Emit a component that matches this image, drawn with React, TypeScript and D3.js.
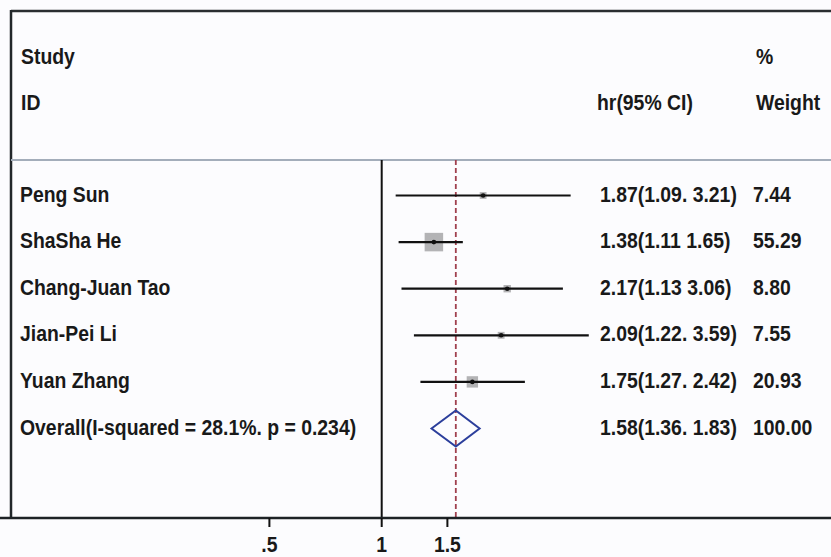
import React from 'react';
import * as d3 from 'd3';

const W = 831;
const H = 557;

const studies = ['Peng Sun', 'ShaSha He', 'Chang-Juan Tao', 'Jian-Pei Li', 'Yuan Zhang'];
const hr = [1.87, 1.38, 2.17, 2.09, 1.75];
const lower = [1.09, 1.11, 1.13, 1.22, 1.27];
const upper = [3.21, 1.65, 3.06, 3.59, 2.42];
const weights = [7.44, 55.29, 8.8, 7.55, 20.93];
const ciLabels = ['1.87(1.09. 3.21)', '1.38(1.11 1.65)', '2.17(1.13 3.06)', '2.09(1.22. 3.59)', '1.75(1.27. 2.42)'];
const weightLabels = ['7.44', '55.29', '8.80', '7.55', '20.93'];

const overallLabel = 'Overall(I-squared = 28.1%. p = 0.234)';
const overallHr = 1.58;
const overallLower = 1.36;
const overallUpper = 1.83;
const overallCi = '1.58(1.36. 1.83)';
const overallWeight = '100.00';

const ticks = [0.5, 1, 1.5];
const tickLabels = ['.5', '1', '1.5'];

const FONT = '"Liberation Sans", Arial, Helvetica, sans-serif';
const TXT = '#191919';

// bold text, a little taller than plain Arial like the original Stata export
function T({ x, y, children, anchor = 'start' }: { x: number; y: number; children: React.ReactNode; anchor?: string }) {
  return (
    <text
      transform={`translate(${x},${y}) scale(1,1.1)`}
      textAnchor={anchor}
      fontFamily={FONT}
      fontWeight={700}
      fontSize={19.4}
      fill={TXT}
    >
      {children}
    </text>
  );
}

export default function App() {
  // log scale, null line (hr = 1) at x ≈ 382
  const x = d3.scaleLog().domain([0.5, 4]).range([269.4, 606.3]);
  const y = d3.scaleLinear().domain([0, 5]).range([195.5, 428.5]);
  const size = d3.scaleSqrt().domain([0, d3.max(weights) as number]).range([0, 18.5]);

  const axisY = 518;
  const topY = 160;
  const oy = y(5);

  const diamond = [
    [x(overallLower), oy],
    [x(overallHr), oy - 18],
    [x(overallUpper), oy],
    [x(overallHr), oy + 18],
  ];

  return (
    <div style={{ position: 'fixed', left: 0, top: 0 }}>
      <svg width={W} height={H} style={{ display: 'block' }}>
        <rect x={0} y={0} width={W} height={H} fill="#fcfcfe" />

        {/* frame */}
        <line x1={11} x2={W} y1={11} y2={11} stroke="#2a2e31" strokeWidth={2.5} />
        <line x1={11} x2={11} y1={10} y2={axisY} stroke="#22272a" strokeWidth={2.5} />
        <line x1={11} x2={W} y1={topY} y2={topY} stroke="#a3adba" strokeWidth={1.8} />

        {/* header */}
        <T x={21} y={64}>Study</T>
        <T x={21} y={110}>ID</T>
        <T x={597} y={110}>hr(95% CI)</T>
        <T x={756} y={64}>%</T>
        <T x={756} y={110}>Weight</T>

        {/* null line */}
        <line x1={x(1)} x2={x(1)} y1={topY} y2={axisY} stroke="#111" strokeWidth={2} />
        {/* overall estimate line */}
        <line
          x1={x(overallHr)}
          x2={x(overallHr)}
          y1={topY}
          y2={axisY}
          stroke="#a0404e"
          strokeWidth={1.8}
          strokeDasharray="5,3"
        />

        {studies.map((s, i) => {
          const cy = y(i);
          const side = size(weights[i]);
          return (
            <g key={s}>
              <rect
                x={x(hr[i]) - side / 2}
                y={cy - side / 2}
                width={side}
                height={side}
                fill="#b3b3b5"
              />
              <line x1={x(lower[i])} x2={x(upper[i])} y1={cy} y2={cy} stroke="#111" strokeWidth={2.2} />
              <circle cx={x(hr[i])} cy={cy} r={2.3} fill="#111" />
              <T x={20} y={cy + 6}>{s}</T>
              <T x={600} y={cy + 6}>{ciLabels[i]}</T>
              <T x={753} y={cy + 6}>{weightLabels[i]}</T>
            </g>
          );
        })}

        {/* overall */}
        <polygon
          points={diamond.map(p => p.join(',')).join(' ')}
          fill="none"
          stroke="#2c3f9c"
          strokeWidth={2}
        />
        <T x={20} y={oy + 6}>{overallLabel}</T>
        <T x={600} y={oy + 6}>{overallCi}</T>
        <T x={753} y={oy + 6}>{overallWeight}</T>

        {/* axis */}
        <line x1={0} x2={W} y1={axisY} y2={axisY} stroke="#1d2225" strokeWidth={2.5} />
        {ticks.map((t, i) => (
          <g key={t}>
            <line x1={x(t)} x2={x(t)} y1={axisY} y2={axisY + 9} stroke="#111" strokeWidth={2} />
            <T x={x(t)} y={552} anchor="middle">{tickLabels[i]}</T>
          </g>
        ))}
      </svg>
    </div>
  );
}
